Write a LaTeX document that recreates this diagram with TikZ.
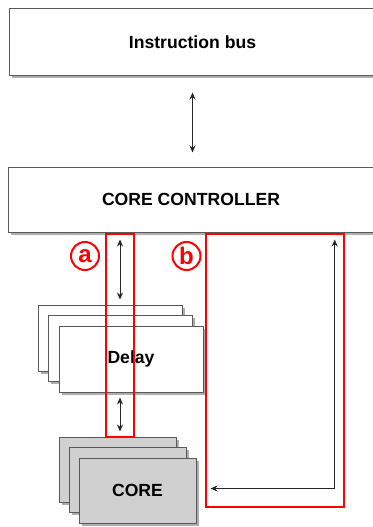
\documentclass[tikz,border=0pt]{standalone}
\usepackage{fontspec}
\setmainfont{Liberation Sans}
\usetikzlibrary{arrows.meta,shadows,calc}
\definecolor{coregray}{RGB}{208,208,208}
\definecolor{framered}{RGB}{255,0,0}

\begin{document}
\begin{tikzpicture}[x=1pt, y=-1pt, >={Stealth[length=7pt,width=6pt]},
    every node/.style={font=\fontsize{17.6}{20}\selectfont\bfseries},
    block/.style={draw=black!65, line width=1pt, fill=white,
        drop shadow={shadow xshift=2.5pt, shadow yshift=-2.5pt, fill=black!45, opacity=0.7}},
    link/.style={<->, black!85, line width=1pt},
    frame/.style={draw=framered, line width=1.4pt},
    tag/.style={circle, draw=framered, line width=2pt, text=framered, minimum size=28pt,
        inner sep=0pt, font=\fontsize{24}{24}\selectfont\bfseries}]
    \useasboundingbox (0,0) rectangle (372,527);

    % top part
    \node[block, minimum width=367pt, minimum height=66pt] (bus) at (192.5,42) {Instruction bus};
    \node[block, minimum width=366pt, minimum height=65pt] (ctrl) at (191,199.5) {CORE CONTROLLER};
    \draw[link] ([yshift=-17pt]bus.south) -- ([yshift=14pt]ctrl.north -| bus.south);

    % delay stack
    \node[block, minimum width=144pt, minimum height=66pt] (dly3) at (110,338) {};
    \node[block, minimum width=144pt, minimum height=66pt] (dly2) at (120.5,348.5) {};
    \node[block, minimum width=144pt, minimum height=66pt] (dly) at (131,359) {Delay};

    % core stack
    \node[block, fill=coregray, minimum width=117pt, minimum height=65pt] (core3) at (117.5,469.5) {};
    \node[block, fill=coregray, minimum width=117pt, minimum height=65pt] (core2) at (127.5,480) {};
    \node[block, fill=coregray, minimum width=117pt, minimum height=65pt] (core) at (137.5,490.5) {CORE};

    % path a
    \node[frame, minimum width=28pt, minimum height=203pt] (boxa) at (120,335.5) {};
    \draw[link] ([yshift=-7pt]ctrl.south -| boxa.north) -- ([yshift=5pt]dly3.north -| boxa.north);
    \draw[link] ([yshift=-5pt]dly.south -| boxa.north) -- ([yshift=5pt]core3.north -| boxa.north);
    \node[tag] (taga) at (85,256) {a};

    % path b
    \node[frame, minimum width=138pt, minimum height=273pt] (boxb) at (275,370.5) {};
    \coordinate (turn) at ($(ctrl.south -| boxb.east)+(-10,7)$);
    \draw[link] ([xshift=14pt,yshift=2pt]core.east) -| (turn);
    \node[tag] (tagb) at (186.5,256) {b};
\end{tikzpicture}
\end{document}
